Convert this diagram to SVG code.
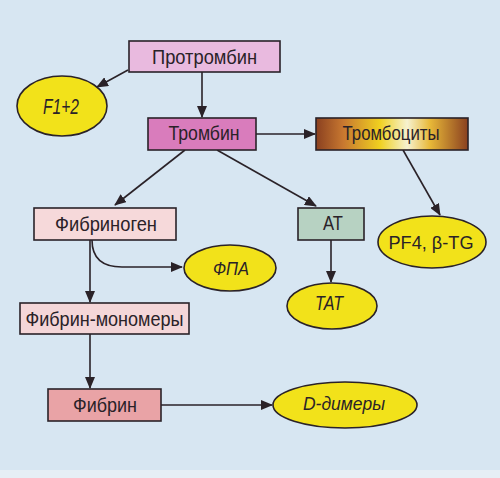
<svg xmlns="http://www.w3.org/2000/svg" width="500" height="478" viewBox="0 0 500 478">
<defs>
<style>
.box{stroke:#2a2228;stroke-width:1.6}
.ell{fill:#f2e21a;stroke:#2a2228;stroke-width:1.6}
.t{font-family:"Liberation Sans",Arial,sans-serif;font-size:20.5px;fill:#2a2228;text-anchor:middle}
.i{font-style:italic}
.c{fill:none;stroke:#2a2228;stroke-width:1.6}
</style>
<marker id="ah" viewBox="0 0 12 10" refX="11" refY="5" markerWidth="12" markerHeight="10" markerUnits="userSpaceOnUse" orient="auto">
<path d="M0,0 L12,5 L0,10 Z" fill="#2a2228"/>
</marker>
<linearGradient id="gr" x1="0" y1="0" x2="1" y2="0">
<stop offset="0" stop-color="#8a4020"/>
<stop offset="0.18" stop-color="#c87830"/>
<stop offset="0.42" stop-color="#f0d020"/>
<stop offset="0.6" stop-color="#f6f2d0"/>
<stop offset="0.75" stop-color="#e8b838"/>
<stop offset="1" stop-color="#8a4020"/>
</linearGradient>
</defs>
<rect x="0" y="0" width="500" height="478" fill="#d7e6f2"/>
<rect x="0" y="470" width="500" height="8" fill="#e6eef5"/>
<g id="connectors">
<line class="c" x1="128" y1="70" x2="97" y2="87" marker-end="url(#ah)"/>
<line class="c" x1="202" y1="72" x2="202" y2="117" marker-end="url(#ah)"/>
<line class="c" x1="256" y1="134" x2="315" y2="134" marker-end="url(#ah)"/>
<line class="c" x1="185" y1="150" x2="115" y2="205" marker-end="url(#ah)"/>
<line class="c" x1="217" y1="150" x2="316" y2="206" marker-end="url(#ah)"/>
<line class="c" x1="403" y1="150" x2="440" y2="215" marker-end="url(#ah)"/>
<line class="c" x1="331" y1="240" x2="331" y2="282" marker-end="url(#ah)"/>
<path class="c" d="M92,240 Q92,267 122,267 L182,267" marker-end="url(#ah)"/>
<line class="c" x1="90" y1="240" x2="90" y2="302" marker-end="url(#ah)"/>
<line class="c" x1="90" y1="334" x2="90" y2="388" marker-end="url(#ah)"/>
<line class="c" x1="161" y1="405" x2="272" y2="405" marker-end="url(#ah)"/>
</g>
<g id="prothrombin"><rect class="box" x="129" y="41" width="151" height="31" fill="#e9badf"/><text class="t" x="204.5" y="63.5" textLength="105" lengthAdjust="spacingAndGlyphs">Протромбин</text></g>
<g id="f12"><ellipse class="ell" cx="62" cy="106" rx="45" ry="30"/><text class="t i" x="61" y="114" style="font-size:22px" textLength="36" lengthAdjust="spacingAndGlyphs">F1+2</text></g>
<g id="thrombin"><rect class="box" x="148" y="118" width="108" height="32" fill="#d97cbc"/><text class="t" x="204" y="140" textLength="71" lengthAdjust="spacingAndGlyphs">Тромбин</text></g>
<g id="platelets"><rect class="box" x="316" y="118" width="152" height="32" fill="url(#gr)"/><text class="t" x="391" y="139.5" textLength="97" lengthAdjust="spacingAndGlyphs">Тромбоциты</text></g>
<g id="fibrinogen"><rect class="box" x="34" y="208" width="142" height="32" fill="#f6d9da"/><text class="t" x="106" y="230.5" textLength="102" lengthAdjust="spacingAndGlyphs">Фибриноген</text></g>
<g id="at"><rect class="box" x="298" y="208" width="66" height="32" fill="#b7d2c2"/><text class="t" x="333" y="230" textLength="20" lengthAdjust="spacingAndGlyphs">AT</text></g>
<g id="pf4"><ellipse class="ell" cx="432" cy="242" rx="54" ry="26"/><text class="t" x="431" y="248.5" style="font-size:19px" textLength="85" lengthAdjust="spacingAndGlyphs">PF4, β-TG</text></g>
<g id="fpa"><ellipse class="ell" cx="230" cy="268" rx="46" ry="23"/><text class="t i" x="231" y="275" style="font-size:19px" textLength="36" lengthAdjust="spacingAndGlyphs">ФПА</text></g>
<g id="tat"><ellipse class="ell" cx="332" cy="306" rx="45" ry="23"/><text class="t i" x="329" y="310" textLength="28" lengthAdjust="spacingAndGlyphs">TAT</text></g>
<g id="fibrinmono"><rect class="box" x="20" y="303" width="169" height="31" fill="#f4d6d8"/><text class="t" x="104.5" y="325.5" textLength="158" lengthAdjust="spacingAndGlyphs">Фибрин-мономеры</text></g>
<g id="fibrin"><rect class="box" x="48" y="389" width="113" height="32" fill="#e9a3a6"/><text class="t" x="105" y="411.5" textLength="64" lengthAdjust="spacingAndGlyphs">Фибрин</text></g>
<g id="ddimer"><ellipse class="ell" cx="345" cy="405" rx="72" ry="23"/><text class="t i" x="344" y="410" style="font-size:18px" textLength="82" lengthAdjust="spacingAndGlyphs">D-димеры</text></g>
</svg>
